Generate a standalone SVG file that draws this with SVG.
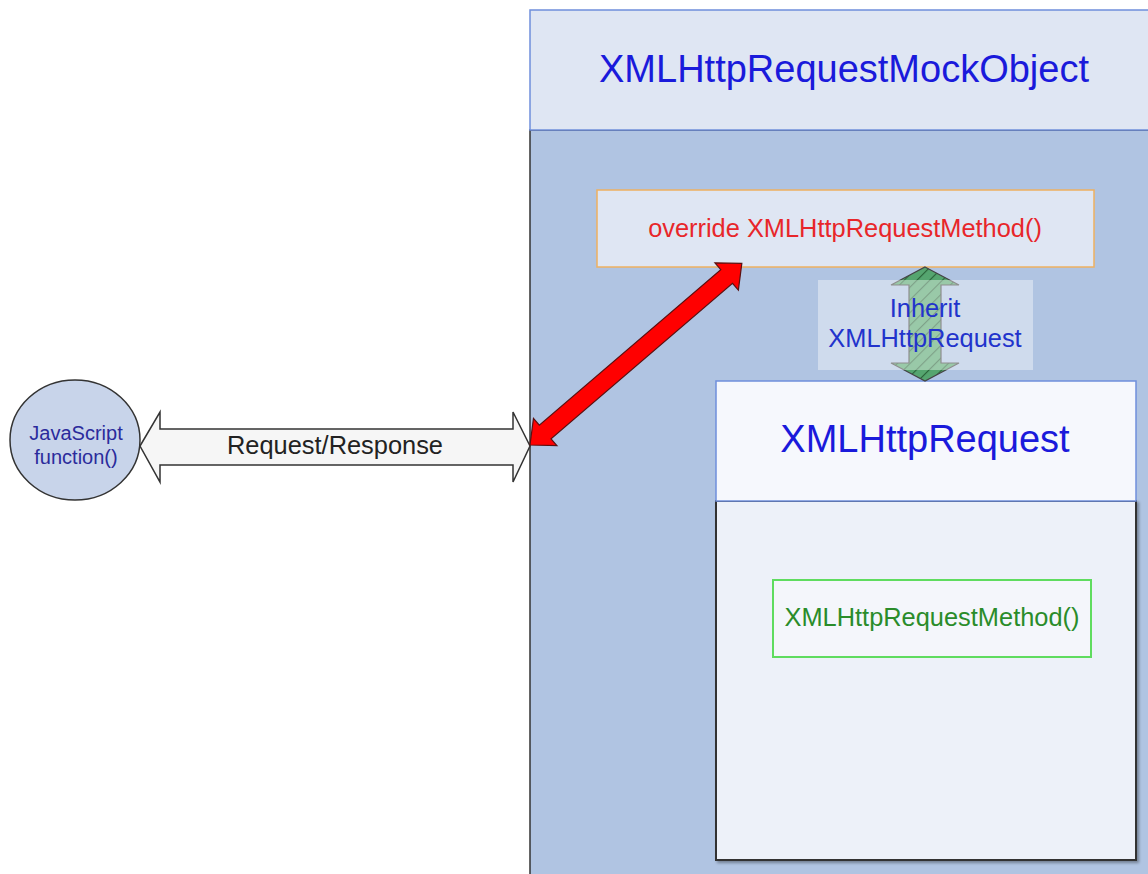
<svg xmlns="http://www.w3.org/2000/svg" width="1148" height="874" viewBox="0 0 1148 874">
  <style>
    text { font-family: "Liberation Sans", Arial, sans-serif; text-anchor: middle; }
    .title { font-size: 38px; fill: #1a1adb; }
    .label { font-size: 25.4px; }
    .dark { stroke: #333; stroke-width: 1.5; }
  </style>
  <defs>
    <pattern id="hatch" width="9" height="9" patternUnits="userSpaceOnUse" patternTransform="rotate(45)">
      <rect width="9" height="9" fill="#55a56f"/>
      <line x1="0" y1="0" x2="0" y2="9" stroke="#2a6339" stroke-width="2.2"/>
    </pattern>
    <filter id="shadow" x="-5%" y="-5%" width="110%" height="110%">
      <feDropShadow dx="2" dy="2" stdDeviation="1.5" flood-color="#000" flood-opacity="0.35"/>
    </filter>
  </defs>

  <rect width="1148" height="874" fill="#ffffff"/>

  <!-- mock object container -->
  <g id="mock-object">
    <rect x="530" y="130" width="640" height="760" fill="#b0c4e2" class="dark"/>
    <rect x="530" y="10" width="640" height="120" fill="#dfe6f3" stroke="#6f8fdb" stroke-width="1.5"/>
    <text x="844" y="82" class="title">XMLHttpRequestMockObject</text>
  </g>

  <!-- overriding method -->
  <g id="override-method">
    <rect x="597" y="190" width="497" height="77" fill="#dfe6f3" stroke="#eeb060" stroke-width="1.5"/>
    <text x="845" y="237" class="label" fill="#e8262a">override XMLHttpRequestMethod()</text>
  </g>

  <!-- base class -->
  <g id="xmlhttprequest">
    <rect x="716" y="501" width="420" height="359" fill="#edf1f9" stroke="#333" stroke-width="2" filter="url(#shadow)"/>
    <rect x="716" y="381" width="420" height="120" fill="#f6f8fd" stroke="#6f8fdb" stroke-width="1.5"/>
    <text x="925" y="452" class="title">XMLHttpRequest</text>
  </g>

  <g id="base-method">
    <rect x="773" y="580" width="318" height="77" fill="#f4f6fb" stroke="#5fdc5f" stroke-width="2"/>
    <text x="932" y="626" class="label" fill="#2a8c2a">XMLHttpRequestMethod()</text>
  </g>

  <!-- caller -->
  <g id="js-function">
    <ellipse cx="75" cy="440" rx="65" ry="60" fill="#c8d4ea" stroke="#333" stroke-width="1.5"/>
    <text x="76" y="440" font-size="20" fill="#2b2b9c">JavaScript</text>
    <text x="76" y="464" font-size="20" fill="#2b2b9c">function()</text>
  </g>

  <g id="connectors">
    <!-- request / response block arrow -->
    <path d="M140,446 L160,412 L160,429 L513,429 L513,412 L530,446 L513,482 L513,465 L160,465 L160,482 Z" fill="#f6f6f6" class="dark"/>
    <text x="335" y="454" class="label" fill="#222">Request/Response</text>

    <!-- red double arrow to the override -->
    <g transform="translate(530,445) rotate(-40.6)">
      <path d="M0,0 L20,-18 L20,-9 L259,-9 L259,-18 L279,0 L259,18 L259,9 L20,9 L20,18 Z" fill="#ff0000" stroke="#5a1010" stroke-width="1.2"/>
    </g>

    <!-- inheritance double arrow -->
    <path d="M925,267 L959,285 L941,285 L941,363 L959,363 L925,381 L891,363 L909,363 L909,285 L891,285 Z" fill="url(#hatch)" stroke="#444" stroke-width="1.2"/>
  </g>

  <g id="inherit-label">
    <rect x="818" y="280" width="215" height="90" fill="#ffffff" fill-opacity="0.4"/>
    <text x="925" y="317" class="label" fill="#2233cc">Inherit</text>
    <text x="925" y="347" class="label" fill="#2233cc">XMLHttpRequest</text>
  </g>
</svg>
